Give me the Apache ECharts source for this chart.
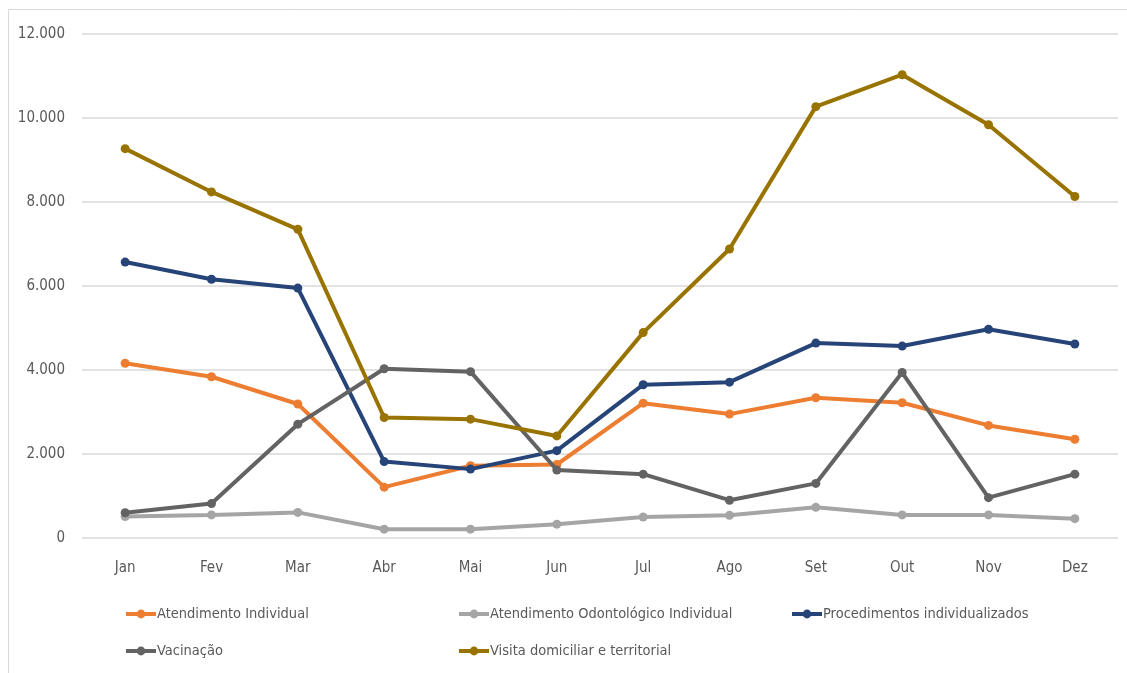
<!DOCTYPE html>
<html>
<head>
<meta charset="utf-8">
<script src="https://cdn.jsdelivr.net/npm/echarts@6/dist/echarts.min.js"></script>
<style>
  html, body { margin: 0; padding: 0; background: #fff; }
  #chart { width: 1127px; height: 673px; }
</style>
</head>
<body>
<div id="chart"></div>
<script>
// Monthly production by activity type
const months = ['Jan', 'Fev', 'Mar', 'Abr', 'Mai', 'Jun', 'Jul', 'Ago', 'Set', 'Out', 'Nov', 'Dez'];

const atendimentoIndividual = [4160, 3840, 3190, 1210, 1720, 1750, 3210, 2950, 3340, 3220, 2680, 2350];
const atendimentoOdontologico = [510, 550, 610, 210, 210, 330, 500, 540, 730, 550, 550, 460];
const procedimentos = [6570, 6160, 5950, 1820, 1640, 2080, 3650, 3710, 4640, 4570, 4970, 4620];
const vacinacao = [600, 820, 2710, 4030, 3960, 1620, 1520, 900, 1300, 3940, 960, 1520];
const visitaDomiciliar = [9270, 8240, 7350, 2870, 2830, 2430, 4890, 6880, 10270, 11030, 9840, 8130];

const seriesNames = [
  'Atendimento Individual',
  'Atendimento Odontológico Individual',
  'Procedimentos individualizados',
  'Vacinação',
  'Visita domiciliar e territorial'
];
const seriesData = [atendimentoIndividual, atendimentoOdontologico, procedimentos, vacinacao, visitaDomiciliar];
const seriesColors = ['#ED7D31', '#A5A5A5', '#264478', '#636363', '#997300'];

const FONT = '"DejaVu Sans Condensed", "Liberation Sans Narrow", "Noto Sans", sans-serif';
const TEXT_COLOR = '#595959';

// legend slots: [left, top] of each entry, two rows of three columns
const legendSlots = [[124, 605], [457, 605], [790, 605], [124, 642], [457, 642]];

const chart = echarts.init(document.getElementById('chart'), null, { renderer: 'canvas' });

chart.setOption({
  animation: false,
  backgroundColor: '#ffffff',
  graphic: [{
    type: 'rect',
    shape: { x: 8.5, y: 9.5, width: 1140, height: 700 },
    style: { fill: 'none', stroke: '#D9D9D9', lineWidth: 1 },
    silent: true,
    z: -1
  }],
  grid: { left: 82, right: 9, top: 34, bottom: 135, containLabel: false },
  legend: seriesNames.map((name, i) => ({
    left: legendSlots[i][0],
    top: legendSlots[i][1],
    padding: 0,
    data: [name],
    itemWidth: 30,
    itemHeight: 11,
    selectedMode: false,
    lineStyle: { width: 4 },
    textStyle: { color: TEXT_COLOR, fontSize: 14.5, fontFamily: FONT, lineHeight: 18, padding: [0, 0, 0, -4] }
  })),
  xAxis: {
    type: 'category',
    data: months,
    boundaryGap: true,
    axisLine: { show: false },
    axisTick: { show: false },
    axisLabel: { color: TEXT_COLOR, fontSize: 15, fontFamily: FONT, margin: 23 }
  },
  yAxis: {
    type: 'value',
    min: 0,
    max: 12000,
    interval: 2000,
    axisLine: { show: false },
    axisTick: { show: false },
    splitLine: { lineStyle: { color: '#D9D9D9', width: 1.5 } },
    axisLabel: {
      color: TEXT_COLOR,
      fontSize: 15,
      fontFamily: FONT,
      margin: 17,
      formatter: v => v === 0 ? '0' : (v / 1000).toFixed(0) + '.000'
    }
  },
  series: seriesNames.map((name, i) => ({
    name: name,
    type: 'line',
    data: seriesData[i],
    symbol: 'circle',
    symbolSize: 9,
    color: seriesColors[i],
    lineStyle: { width: 4, color: seriesColors[i] },
    itemStyle: { color: seriesColors[i] },
    z: 2 + i
  }))
});
</script>
</body>
</html>
